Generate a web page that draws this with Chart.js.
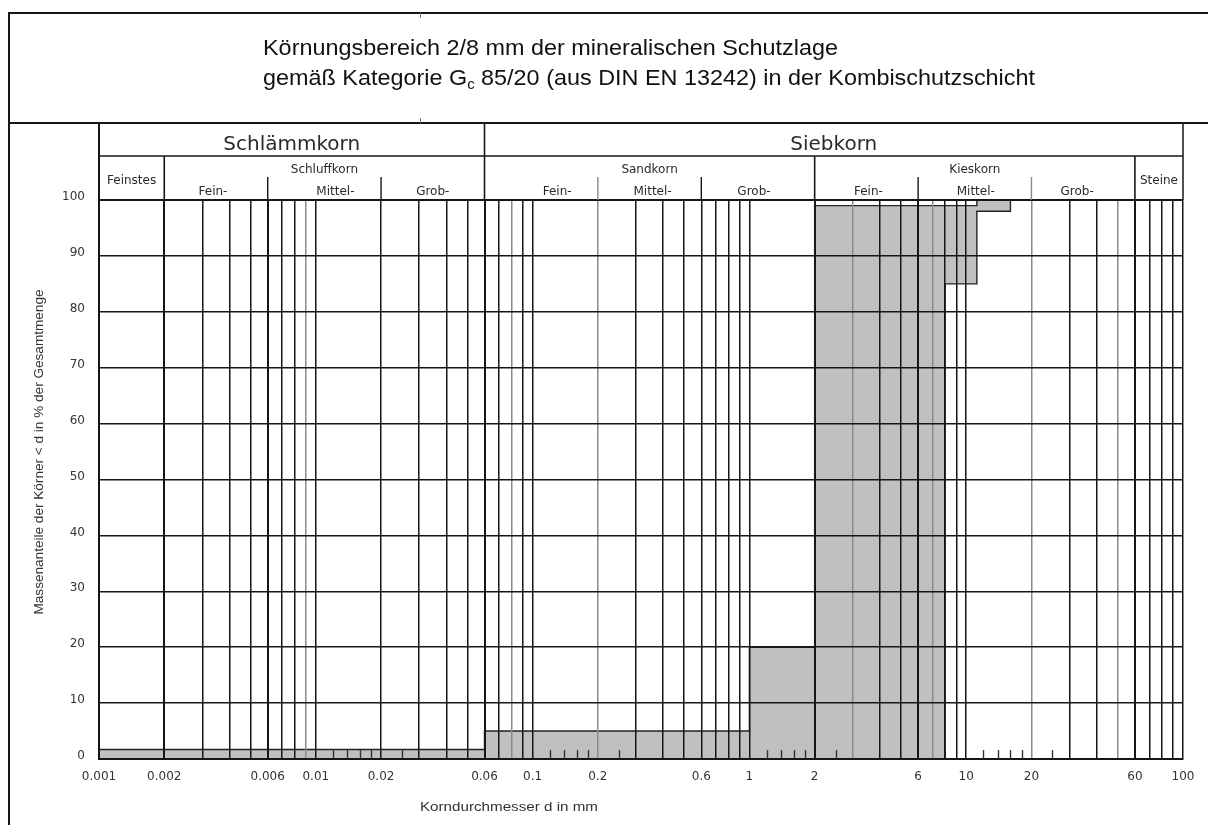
<!DOCTYPE html>
<html>
<head>
<meta charset="utf-8">
<script src="https://cdn.jsdelivr.net/npm/chart.js@4"></script>
<style>
  html, body { margin: 0; padding: 0; background: #fff; }
  canvas { display: block; }
</style>
</head>
<body>
<canvas id="c" width="1208" height="825"></canvas>
<script>
// ---------- data ----------
// sieve sizes (mm) bounding each step of the grading band
const sieveEdges = [0.001, 0.06, 1, 2, 8, 11.2, 16];
// upper / lower limit of passing (%) for each step
const upperLimit = [1.7, 5, 20, 99, 99, 100];
const lowerLimit = [0, 0, 0, 0, 85, 98];

// vertical grid lines (mm)
const gridValues = [0.001, 0.002, 0.003, 0.004, 0.005, 0.006, 0.007, 0.008, 0.009,
  0.01, 0.02, 0.03, 0.04, 0.05, 0.06, 0.07, 0.08, 0.09,
  0.1, 0.2, 0.3, 0.4, 0.5, 0.6, 0.7, 0.8, 0.9,
  1, 2, 3, 4, 5, 6, 7, 8, 9,
  10, 20, 30, 40, 50, 60, 70, 80, 90, 100];
// labelled x ticks
const xTickLabels = [0.001, 0.002, 0.006, 0.01, 0.02, 0.06, 0.1, 0.2, 0.6, 1, 2, 6, 10, 20, 60, 100];
// short sieve marks on the base line
const sieveMarks = [0.012, 0.014, 0.016, 0.018, 0.025,
  0.12, 0.14, 0.16, 0.18, 0.25,
  1.2, 1.4, 1.6, 1.8, 2.5,
  12, 14, 16, 18, 25];
const sieveMarkHeight = 1.6;

// y ticks
const yMin = 0, yMax = 100, yStep = 10;

// classification header (DIN 4022)
const mainGroups = [
  { text: 'Schlämmkorn', from: 0.001, to: 0.06 },
  { text: 'Siebkorn', from: 0.06, to: 100 }
];
const soilGroups = [
  { text: 'Feinstes', from: 0.001, to: 0.002, single: true },
  { text: 'Schluffkorn', from: 0.002, to: 0.06, subs: [0.002, 0.006, 0.02, 0.06], nudge: [-3, 11, 0] },
  { text: 'Sandkorn', from: 0.06, to: 2, subs: [0.06, 0.2, 0.6, 2], nudge: [16, 3, -4] },
  { text: 'Kieskorn', from: 2, to: 60, subs: [2, 6, 20, 60], nudge: [2, 1, -6] },
  { text: 'Steine', from: 60, to: 100, single: true }
];
const subNames = ['Fein-', 'Mittel-', 'Grob-'];

const titleLine1 = 'Körnungsbereich 2/8 mm der mineralischen Schutzlage';
const titleLine2a = 'gemäß Kategorie G';
const titleLine2sub = 'c';
const titleLine2b = ' 85/20 (aus DIN EN 13242) in der Kombischutzschicht';
const xTitle = 'Korndurchmesser d in mm';
const yTitle = 'Massenanteile der Körner < d in % der Gesamtmenge';

// ---------- build band outline ----------
const outline = [];
for (let i = 0; i < upperLimit.length; i++) {
  outline.push({ x: sieveEdges[i], y: upperLimit[i] });
  outline.push({ x: sieveEdges[i + 1], y: upperLimit[i] });
}
for (let i = lowerLimit.length - 1; i >= 0; i--) {
  outline.push({ x: sieveEdges[i + 1], y: lowerLimit[i] });
  outline.push({ x: sieveEdges[i], y: lowerLimit[i] });
}

// ---------- styling ----------
const grayLines = [0.009, 0.08, 0.2, 3, 7, 20, 50];
const thickLines = [0.002, 0.006, 0.06, 2, 6, 60];
const INK = '#161616';
const TXT = '#2a2a2a';

function fitText(ctx, text, x, y, width, align) {
  const w = ctx.measureText(text).width;
  const s = width / w;
  ctx.save();
  ctx.translate(x, y);
  ctx.scale(s, 1);
  ctx.textAlign = align || 'left';
  ctx.fillText(text, 0, 0);
  ctx.restore();
}

const decorPlugin = {
  id: 'decor',
  afterDraw(chart) {
    const ctx = chart.ctx;
    const xs = chart.scales.x, ys = chart.scales.y;
    const ca = chart.chartArea;
    const L = ca.left, R = ca.right, T = ca.top;
    const hTop = 123, hMid = 156, hSub = 177;
    const px = v => xs.getPixelForValue(v);
    const mid = (a, b) => xs.getPixelForValue(Math.sqrt(a * b));

    ctx.save();
    ctx.lineCap = 'butt';
    function line(x1, y1, x2, y2, w, c) {
      ctx.beginPath();
      ctx.strokeStyle = c || INK;
      ctx.lineWidth = w;
      ctx.moveTo(x1, y1); ctx.lineTo(x2, y2);
      ctx.stroke();
    }

    // sieve marks
    const y0 = ys.getPixelForValue(0), yM = ys.getPixelForValue(sieveMarkHeight);
    sieveMarks.forEach(v => line(Math.round(px(v)) + 0.5, y0, Math.round(px(v)) + 0.5, yM, 1.4, '#333'));

    // outer frame
    line(9, 13, 1208, 13, 2);
    line(9, 12, 9, 825, 2);
    line(9, hTop, 1208, hTop, 2);
    line(420.5, 13, 420.5, 18, 1, '#777');
    line(420.5, hTop - 5, 420.5, hTop, 1, '#777');

    // header frame
    line(L, hTop, L, T, 2);
    line(R, hTop, R, T, 1.5);
    line(L, hMid, R, hMid, 1.4);
    line(px(0.06), hTop, px(0.06), T, 1.6);
    [0.002, 2, 60].forEach(v => line(px(v), hMid, px(v), T, 1.6));
    [[0.006, INK], [0.02, INK], [0.2, '#888'], [0.6, INK], [6, INK], [20, '#888']]
      .forEach(([v, c]) => line(px(v), hSub, px(v), T, 1.4, c));

    // header texts
    ctx.fillStyle = TXT;
    ctx.textBaseline = 'middle';
    ctx.textAlign = 'center';
    ctx.font = '20px "DejaVu Sans"';
    mainGroups.forEach(g => ctx.fillText(g.text, mid(g.from, g.to), 145));
    ctx.font = '12px "DejaVu Sans"';
    soilGroups.forEach(g => {
      if (g.single) {
        ctx.fillText(g.text, mid(g.from, g.to), 181);
      } else {
        ctx.fillText(g.text, mid(g.from, g.to), 170);
        for (let i = 0; i < 3; i++) {
          ctx.fillText(subNames[i], mid(g.subs[i], g.subs[i + 1]) + g.nudge[i], 192);
        }
      }
    });

    // title
    ctx.fillStyle = '#111';
    ctx.textBaseline = 'alphabetic';
    ctx.font = '22px "Liberation Sans Narrow", "Liberation Sans", sans-serif';
    fitText(ctx, titleLine1, 263, 55, 575, 'left');
    // line 2 with subscript
    const fBig = '22px "Liberation Sans Narrow", "Liberation Sans", sans-serif';
    const fSub = '14px "Liberation Sans Narrow", "Liberation Sans", sans-serif';
    ctx.font = fBig;
    const wa = ctx.measureText(titleLine2a).width;
    const wb = ctx.measureText(titleLine2b).width;
    ctx.font = fSub;
    const ws = ctx.measureText(titleLine2sub).width;
    const total = wa + ws + wb;
    const s = 772 / total;
    ctx.save();
    ctx.translate(263, 85);
    ctx.scale(s, 1);
    ctx.textAlign = 'left';
    ctx.font = fBig; ctx.fillText(titleLine2a, 0, 0);
    ctx.font = fSub; ctx.fillText(titleLine2sub, wa, 4);
    ctx.font = fBig; ctx.fillText(titleLine2b, wa + ws, 0);
    ctx.restore();

    // axis titles
    ctx.fillStyle = '#333';
    ctx.textBaseline = 'middle';
    ctx.font = '12px "Liberation Sans", sans-serif';
    fitText(ctx, xTitle, 509, 808, 178, 'center');
    ctx.save();
    ctx.translate(40, 452);
    ctx.rotate(-Math.PI / 2);
    fitText(ctx, yTitle, 0, 0, 325, 'center');
    ctx.restore();

    ctx.restore();
  }
};

new Chart(document.getElementById('c'), {
  type: 'scatter',
  data: {
    datasets: [{
      data: outline,
      showLine: true,
      fill: 'shape',
      backgroundColor: '#c0c0c0',
      borderColor: '#222',
      borderWidth: 1.4,
      pointRadius: 0,
      tension: 0
    }]
  },
  options: {
    responsive: false,
    animation: false,
    devicePixelRatio: 1,
    layout: { padding: { left: 0, right: 25, top: 200, bottom: 0 } },
    plugins: { legend: { display: false }, tooltip: { enabled: false } },
    scales: {
      x: {
        type: 'logarithmic',
        min: 0.001, max: 100,
        afterBuildTicks: s => { s.ticks = gridValues.map(v => ({ value: v })); },
        afterFit: s => { s.height = 66; },
        ticks: {
          autoSkip: false, maxRotation: 0, minRotation: 0, padding: 11,
          color: '#333', font: { family: 'DejaVu Sans', size: 12 },
          callback: v => xTickLabels.includes(v) ? String(v) : ''
        },
        grid: {
          z: 1,
          drawTicks: false,
          color: c => (c.tick && grayLines.includes(c.tick.value)) ? '#8a8a8a' : INK,
          lineWidth: c => (c.tick && thickLines.includes(c.tick.value)) ? 2 : 1.5
        },
        border: { display: true, color: INK, width: 2, z: 2 }
      },
      y: {
        min: yMin, max: yMax,
        afterFit: s => { s.width = 99; },
        ticks: {
          stepSize: yStep, padding: 14, labelOffset: -3,
          color: '#333', font: { family: 'DejaVu Sans', size: 12 }
        },
        grid: {
          z: 2,
          drawTicks: false,
          color: INK,
          lineWidth: c => (c.tick && c.tick.value === 100) ? 2 : 1.5
        },
        border: { display: true, color: INK, width: 2, z: 2 }
      }
    }
  },
  plugins: [decorPlugin]
});
</script>
</body>
</html>
